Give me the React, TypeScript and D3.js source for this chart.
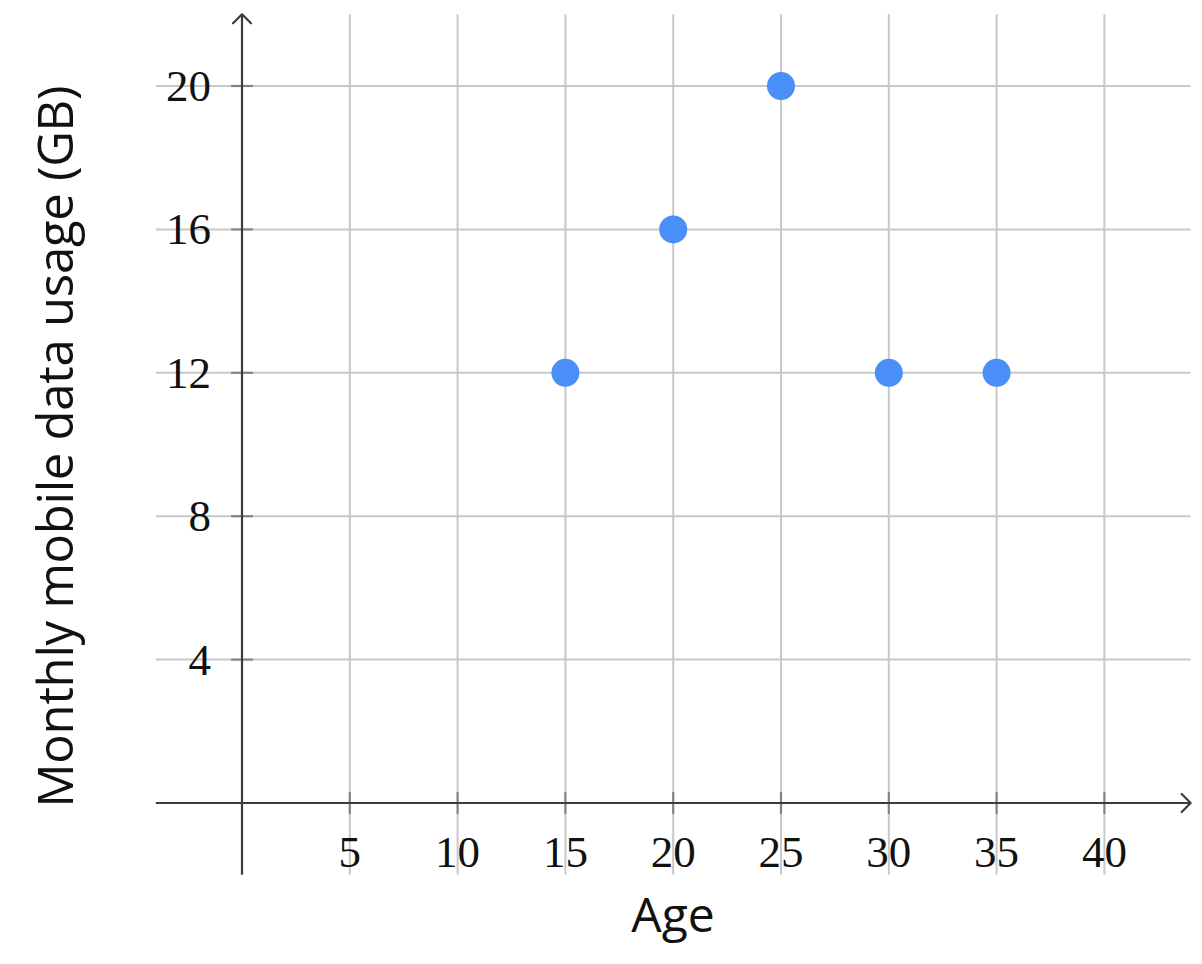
import React from 'react';
import * as d3 from 'd3';

// datos
const ages = [15, 20, 25, 30, 35];
const usageGB = [12, 16, 20, 12, 12];
const xTicks = [5, 10, 15, 20, 25, 30, 35, 40];
const yTicks = [4, 8, 12, 16, 20];

const W = 1202;
const H = 964;

const App = () => {
  const x = d3.scaleLinear().domain([0, 40]).range([242, 1104.4]);
  const y = d3.scaleLinear().domain([0, 20]).range([803, 86]);

  const xMin = x(-4);
  const xMax = x(44);
  const yMin = y(-2);
  const yMax = y(22);

  const gridColor = '#c8c8c8';
  const axisColor = '#3c3c3c';
  const dotColor = '#4a8ef8';
  const serif = '"Liberation Serif", "DejaVu Serif", serif';
  const sans = '"Open Sans", "Noto Sans", sans-serif';

  const points = ages.map((a, i) => ({ age: a, gb: usageGB[i] }));

  return (
    <svg
      width={W}
      height={H}
      style={{ position: 'absolute', left: 0, top: 0, background: '#fff' }}
    >
      {/* rejilla */}
      <g stroke={gridColor} strokeWidth={2}>
        {xTicks.map(t => (
          <line key={'gx' + t} x1={x(t)} x2={x(t)} y1={yMax} y2={yMin} />
        ))}
        {yTicks.map(t => (
          <line key={'gy' + t} x1={xMin} x2={xMax} y1={y(t)} y2={y(t)} />
        ))}
      </g>

      {/* ejes */}
      <g stroke={axisColor} strokeWidth={2.2} fill="none">
        <line x1={xMin} x2={xMax} y1={y(0)} y2={y(0)} />
        <line x1={x(0)} x2={x(0)} y1={yMin} y2={yMax} />
        <path d={`M${xMax - 9},${y(0) - 9} L${xMax},${y(0)} L${xMax - 9},${y(0) + 9}`} strokeLinejoin="round" strokeLinecap="round" />
        <path d={`M${x(0) - 9},${yMax + 9} L${x(0)},${yMax} L${x(0) + 9},${yMax + 9}`} strokeLinejoin="round" strokeLinecap="round" />
        {xTicks.map(t => (
          <line key={'tx' + t} x1={x(t)} x2={x(t)} y1={y(0) - 11} y2={y(0) + 11} strokeOpacity={0.5} />
        ))}
        {yTicks.map(t => (
          <line key={'ty' + t} x1={x(0) - 11} x2={x(0) + 11} y1={y(t)} y2={y(t)} strokeOpacity={0.5} />
        ))}
      </g>

      {/* etiquetas */}
      <g fontFamily={serif} fontSize={45} fill="#111">
        {xTicks.map(t => (
          <text key={'lx' + t} x={x(t)} y={867} textAnchor="middle">{t}</text>
        ))}
        {yTicks.map(t => (
          <text key={'ly' + t} x={x(0) - 31} y={y(t) + 15} textAnchor="end">{t}</text>
        ))}
      </g>

      <text x={673} y={932} textAnchor="middle" fontFamily={sans} fontSize={48} fill="#111">Age</text>
      <text
        transform={`translate(73, ${(808 + 85) / 2}) rotate(-90)`}
        textAnchor="middle"
        fontFamily={sans}
        fontSize={49}
        textLength={722}
        lengthAdjust="spacing"
        fill="#111"
      >
        Monthly mobile data usage (GB)
      </text>

      {/* puntos */}
      <g fill={dotColor}>
        {points.map(p => (
          <circle key={p.age} cx={x(p.age)} cy={y(p.gb)} r={14} />
        ))}
      </g>
    </svg>
  );
};

export default App;
